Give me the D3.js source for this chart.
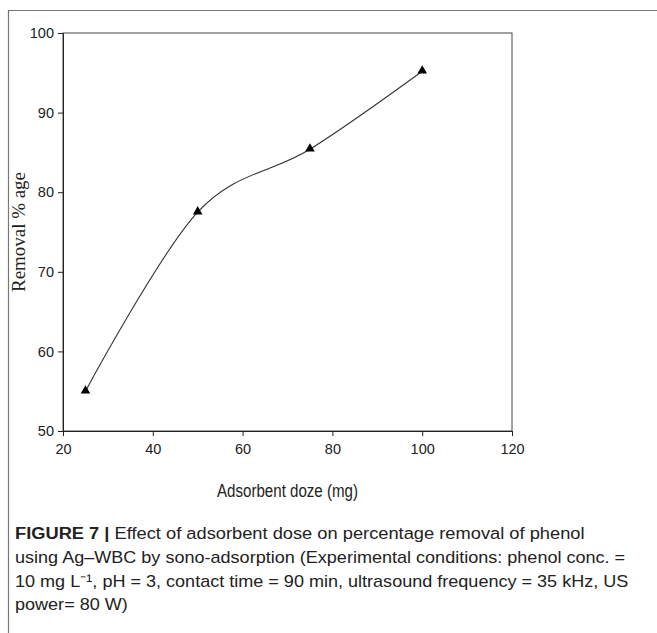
<!DOCTYPE html>
<html lang="en">
<head>
  <meta charset="UTF-8">
  <title>Figure 7</title>
  <script src="https://cdn.jsdelivr.net/npm/d3@7"></script>
  <style>
    body { margin: 0; background: #fff; }
    .tick text { font-family: "Liberation Sans", Arial, sans-serif; font-size: 14.5px; fill: #222; }
    .caption { font-family: "Liberation Sans", Arial, sans-serif; font-size: 17px; fill: #222; }
  </style>
</head>
<body>
  <svg></svg>
  <script>
  var doses = [25, 50, 75, 100],
    removal = [55, 77.5, 85.4, 95.2],
    xTicks = [20, 40, 60, 80, 100, 120],
    yTicks = [50, 60, 70, 80, 90, 100],
    captionLines = [
      "using Ag\u2013WBC by sono-adsorption (Experimental conditions: phenol conc. =",
      "10 mg L\u207B\u00B9, pH = 3, contact time = 90 min, ultrasound frequency = 35 kHz, US",
      "power= 80 W)"
    ];

  var W = 657, H = 633,
    m = { left: 63, right: 512, top: 33, bottom: 431 },
    svg = d3.select("svg").attr("width", W).attr("height", H);

  // squeeze a text horizontally (the original fonts are condensed)
  function squeeze(t, x0, y0, k, rot) {
    t.attr("transform", "translate(" + x0 + "," + y0 + ")" + (rot ? " rotate(-90)" : "") + " scale(" + k + ",1)");
  }
  function fit(t, x0, y0, w, rot) {
    squeeze(t, x0, y0, w / t.node().getComputedTextLength(), rot);
  }

  // outer frame (left + top)
  svg.append("path").attr("d", "M8.5," + H + " L8.5,10.5 L" + W + ",10.5")
    .attr("fill", "none").attr("stroke", "#777").attr("stroke-width", 1.2);

  var x = d3.scaleLinear().domain([20, 120]).range([m.left, m.right]),
    y = d3.scaleLinear().domain([50, 100]).range([m.bottom, m.top]);

  // plot box
  svg.append("rect").attr("x", m.left).attr("y", m.top)
    .attr("width", m.right - m.left).attr("height", m.bottom - m.top)
    .attr("fill", "none").attr("stroke", "#444").attr("stroke-width", 1);

  var xAxis = svg.append("g").attr("transform", "translate(0," + m.bottom + ")")
    .call(d3.axisBottom(x).tickValues(xTicks).tickSize(5).tickPadding(8));
  var yAxis = svg.append("g").attr("transform", "translate(" + m.left + ",0)")
    .call(d3.axisLeft(y).tickValues(yTicks).tickSize(5).tickPadding(4));
  [xAxis, yAxis].forEach(function (a) {
    a.select(".domain").attr("stroke", "#222");
    a.selectAll(".tick line").attr("stroke", "#222");
  });

  var xt = svg.append("text").attr("text-anchor", "middle")
    .style("font-family", "'Liberation Sans', Arial, sans-serif").style("font-size", "18px")
    .attr("fill", "#222").text("Adsorbent doze (mg)");
  fit(xt, (m.left + m.right) / 2, 497, 141);

  var yt = svg.append("text").attr("text-anchor", "middle")
    .style("font-family", "'Liberation Serif', 'Times New Roman', serif").style("font-size", "18px")
    .attr("fill", "#222").text("Removal % age");
  fit(yt, 25, (m.top + m.bottom) / 2, 120, true);

  var pts = doses.map(function (d, i) { return [d, removal[i]]; });

  var line = d3.line().x(function (d) { return x(d[0]); }).y(function (d) { return y(d[1]); })
    .curve(d3.curveCardinal.tension(0));
  svg.append("path").datum(pts).attr("d", line)
    .attr("fill", "none").attr("stroke", "#333").attr("stroke-width", 1.1);

  svg.selectAll("path.mk").data(pts).enter().append("path").attr("class", "mk")
    .attr("d", d3.symbol(d3.symbolTriangle, 40))
    .attr("transform", function (d) { return "translate(" + x(d[0]) + "," + (y(d[1]) - 0.5) + ")"; })
    .attr("fill", "#000");

  // caption
  var cap = svg.append("text").attr("class", "caption");
  cap.append("tspan").attr("font-weight", "bold").text("FIGURE 7 | ");
  cap.append("tspan").text("Effect of adsorbent dose on percentage removal of phenol");
  fit(cap, 15, 539, 570);

  var rows = captionLines.map(function (t) {
    return svg.append("text").attr("class", "caption").text(t);
  });
  var k = 611 / rows[0].node().getComputedTextLength();
  rows.forEach(function (c, i) { squeeze(c, 15, 563 + i * 23.5, k); });
  </script>
</body>
</html>
